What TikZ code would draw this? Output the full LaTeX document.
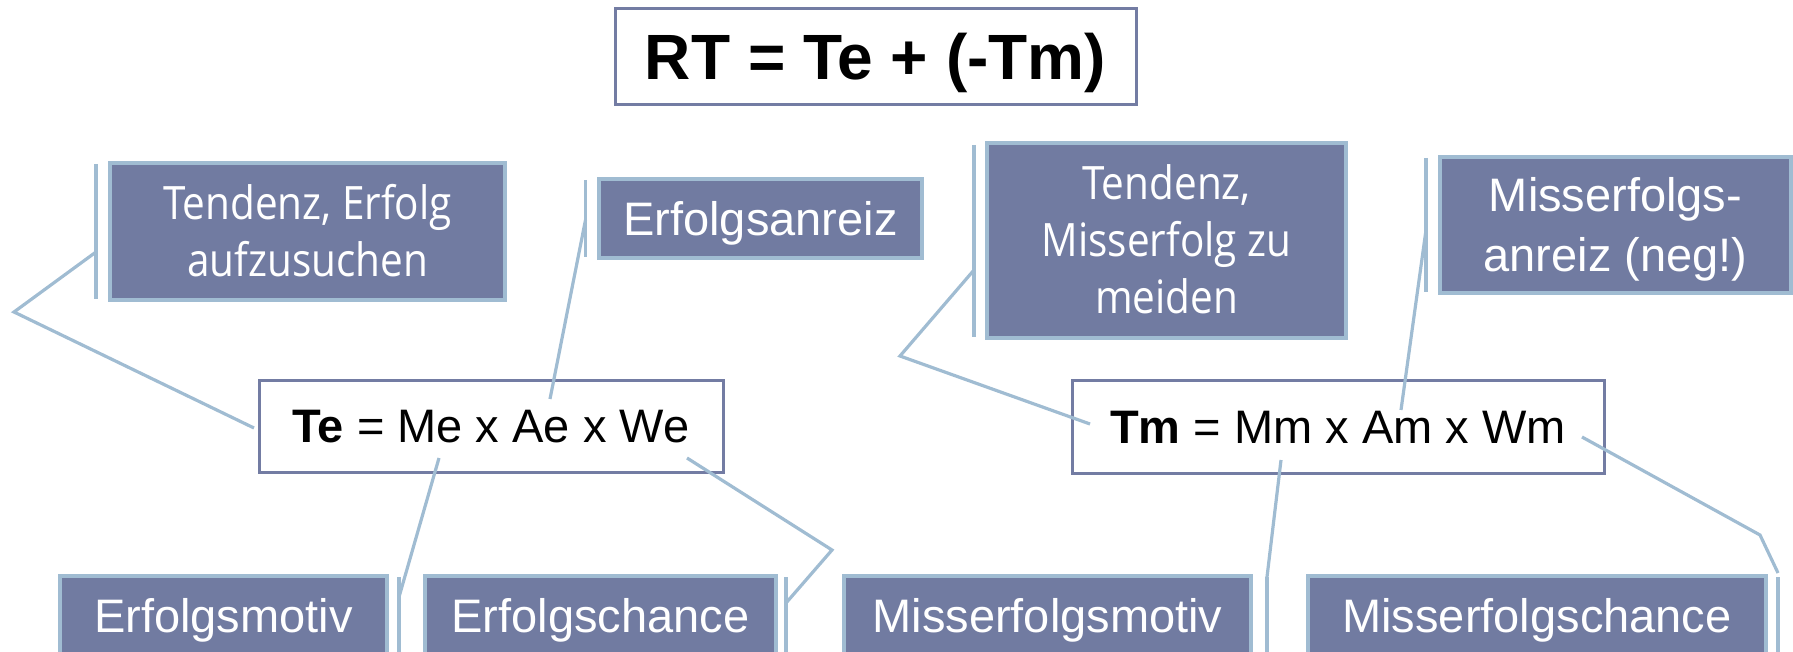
\documentclass[tikz,border=0pt]{standalone}
\usepackage{fontspec}
\setmainfont{Liberation Sans}
\newfontfamily\gillfont[FakeStretch=0.88]{Open Sans}
\definecolor{boxfill}{RGB}{113,123,161}
\definecolor{boxedge}{RGB}{160,188,210}
\definecolor{frameedge}{RGB}{115,124,163}
\tikzset{
  bluebox/.style={draw=boxedge, line width=2pt, fill=boxfill, text=white, inner sep=0pt,
    font=\fontsize{23.5}{30}\selectfont, text height=16.8pt, text depth=0pt},
  gillbox/.style={bluebox, font=\gillfont\fontsize{23}{28.5}\selectfont, align=center},
  formbox/.style={draw=frameedge, line width=1.5pt, fill=white, inner sep=0pt, text=black,
    font=\fontsize{23.5}{28}\selectfont, text height=16.8pt, text depth=0pt},
  conn/.style={draw=boxedge, line width=1.6pt},
}
\begin{document}
\begin{tikzpicture}[x=0.5pt,y=-0.5pt]
\useasboundingbox (0,0) rectangle (1793,652);
\clip (0,0) rectangle (1793,652);
% formula boxes
\node[formbox, minimum width=260.5pt, minimum height=48pt, font=\bfseries\fontsize{32}{36}\selectfont, text height=22.9pt] (title) at (875.5,57) {RT = Te + (-Tm)};
\node[formbox, minimum width=232pt, minimum height=46pt] (te) at (491,426) {\textbf{Te} = Me x Ae x We};
\node[formbox, minimum width=266pt, minimum height=46.5pt] (tm) at (1338,426.5) {\textbf{Tm} = Mm x Am x Wm};
% upper boxes
\node[gillbox, minimum width=197.5pt, minimum height=68.5pt, text height=44.9pt] (b1) at (307.5,231.5) {Tendenz, Erfolg\\aufzusuchen};
\node[bluebox, minimum width=161.5pt, minimum height=39.5pt] (b2) at (760.5,218.5) {Erfolgsanreiz};
\node[gillbox, minimum width=179.5pt, minimum height=97.5pt, text height=73.4pt] (b3) at (1166.5,240.5) {Tendenz,\\Misserfolg zu\\meiden};
\node[bluebox, align=center, minimum width=175.5pt, minimum height=68pt, text height=46.8pt] (b4) at (1615.5,225) {Misserfolgs-\\anreiz (neg!)};
% lower boxes
\node[bluebox, minimum width=163.5pt, minimum height=39.5pt] (b5) at (223.5,615.5) {Erfolgsmotiv};
\node[bluebox, minimum width=175.5pt, minimum height=39.5pt] (b6) at (600.5,615.5) {Erfolgschance};
\node[bluebox, minimum width=203.5pt, minimum height=39.5pt] (b7) at (1047.5,615.5) {Misserfolgsmotiv};
\node[bluebox, minimum width=229pt, minimum height=39.5pt] (b8) at (1537,615.5) {Misserfolgschance};
% connector points
\coordinate (c1a) at (254,428); \coordinate (c1b) at (14,312); \coordinate (c1c) at (96,252);
\coordinate (k1t) at (96,164); \coordinate (k1b) at (96,299);
\coordinate (c2a) at (550,399); \coordinate (c2c) at (585.5,220);
\coordinate (k2t) at (585.5,180); \coordinate (k2b) at (585.5,257);
\coordinate (c3a) at (1090,424); \coordinate (c3b) at (900,356); \coordinate (c3c) at (974,270);
\coordinate (k3t) at (974,145); \coordinate (k3b) at (974,337);
\coordinate (c4a) at (1401,410); \coordinate (c4c) at (1426,230);
\coordinate (k4t) at (1426,158); \coordinate (k4b) at (1426,292);
\coordinate (c5a) at (439,458); \coordinate (c5c) at (399,597);
\coordinate (k5t) at (399,577); \coordinate (k5b) at (399,660);
\coordinate (c6a) at (687,458); \coordinate (c6b) at (832,550); \coordinate (c6c) at (786,603);
\coordinate (k6t) at (786,577); \coordinate (k6b) at (786,660);
\coordinate (c7a) at (1281,460); \coordinate (c7c) at (1267,577);
\coordinate (k7t) at (1267,577); \coordinate (k7b) at (1267,660);
\coordinate (c8a) at (1582,437); \coordinate (c8b) at (1760,535); \coordinate (c8c) at (1778,573);
\coordinate (k8t) at (1778,577); \coordinate (k8b) at (1778,660);
% brackets
\foreach \k in {1,...,8} { \draw[conn] (k\k t) -- (k\k b); }
% connectors
\draw[conn] (c1a) -- (c1b) -- (c1c);
\draw[conn] (c2a) -- (c2c);
\draw[conn] (c3a) -- (c3b) -- (c3c);
\draw[conn] (c4a) -- (c4c);
\draw[conn] (c5a) -- (c5c);
\draw[conn] (c6a) -- (c6b) -- (c6c);
\draw[conn] (c7a) -- (c7c);
\draw[conn] (c8a) -- (c8b) -- (c8c);
\end{tikzpicture}
\end{document}
